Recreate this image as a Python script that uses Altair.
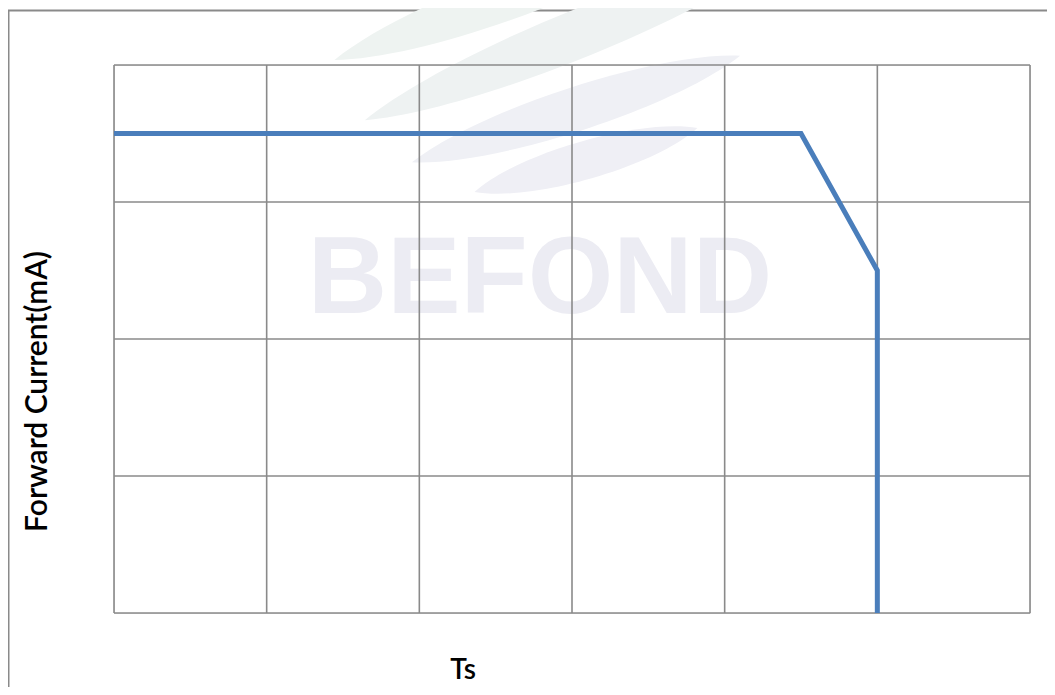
import altair as alt
import pandas as pd

# Data (Ts vs forward current derating curve)
ts_values = [0, 90, 100, 100]
current_values = [350, 350, 250, 0]
order_values = [0, 1, 2, 3]

x_ticks = [0, 20, 40, 60, 80, 100, 120]
y_ticks = [0, 100, 200, 300, 400]

x_title = "Ts"
y_title = "Forward Current(mA)"
watermark_text = "BEFOND"

df = pd.DataFrame({"ts": ts_values, "current": current_values, "order": order_values})
xt = pd.DataFrame({"ts": x_ticks})
yt = pd.DataFrame({"current": y_ticks})
dummy = pd.DataFrame({"d": [0]})

GRID = "#8a8a8a"
LINE = "#4a7ebb"

xscale = alt.Scale(domain=[0, 120], nice=False)
yscale = alt.Scale(domain=[0, 400], nice=False)


def leaf(t):
    return (f"M -1 0 C -0.55 -{t} 0.55 -{t} 1 0 "
            f"C 0.55 {t} -0.55 {t} -1 0 Z")


def swoosh(px, py, length, ang, t, color):
    return alt.Chart(dummy).mark_point(
        shape=leaf(t), filled=True, fill=color, strokeWidth=0, opacity=1
    ).encode(
        x=alt.value(px), y=alt.value(py),
        size=alt.value(length * length), angle=alt.value(ang)
    )


swooshes = [
    swoosh(399, -70, 380, 340, 0.16, "#eef3f1"),
    swoosh(464, -31, 460, 338, 0.14, "#eef2f2"),
    swoosh(462, 44, 345, 342, 0.17, "#eff0f5"),
    swoosh(472, 95, 232, 344, 0.22, "#efeff5"),
]

frame = alt.Chart(dummy).mark_rect(
    fillOpacity=0, stroke=GRID, strokeWidth=2
).encode(
    x=alt.value(-105.5), x2=alt.value(986), y=alt.value(-54.5), y2=alt.value(800)
)

wm = alt.Chart(dummy).mark_text(
    text=watermark_text, font="Liberation Sans", fontWeight="bold", fontSize=110,
    color="#ececf3", align="center", baseline="alphabetic"
).encode(x=alt.value(426), y=alt.value(248))

vgrid = alt.Chart(xt).mark_rule(color=GRID, strokeWidth=1.6).encode(
    x=alt.X("ts:Q", scale=xscale, axis=None)
)
hgrid = alt.Chart(yt).mark_rule(color=GRID, strokeWidth=1.6).encode(
    y=alt.Y("current:Q", scale=yscale, axis=None)
)

line = alt.Chart(df).mark_line(
    color=LINE, strokeWidth=5, strokeJoin="miter"
).encode(
    x=alt.X("ts:Q", scale=xscale, axis=None),
    y=alt.Y("current:Q", scale=yscale, axis=None),
    order="order:Q",
)

ytitle = alt.Chart(dummy).mark_text(
    text=y_title, font="Lato", fontWeight=600, fontSize=30, color="#000000",
    angle=270, align="center", baseline="alphabetic"
).encode(x=alt.value(-67), y=alt.value(326.5))

xtitle = alt.Chart(dummy).mark_text(
    text=x_title, font="Lato", fontWeight=600, fontSize=28, color="#000000",
    align="center", baseline="alphabetic"
).encode(x=alt.value(349), y=alt.value(614))

chart = alt.layer(frame, *swooshes, wm, vgrid, hgrid, line, ytitle, xtitle).properties(
    width=916, height=548,
    autosize=alt.AutoSizeParams(type="none"),
    padding={"left": 106, "top": 57, "right": 17, "bottom": 74},
).configure_view(
    stroke=GRID, strokeWidth=2
).configure(background="white")

chart.save("out.html", embed_options={"renderer": "svg", "actions": False})
